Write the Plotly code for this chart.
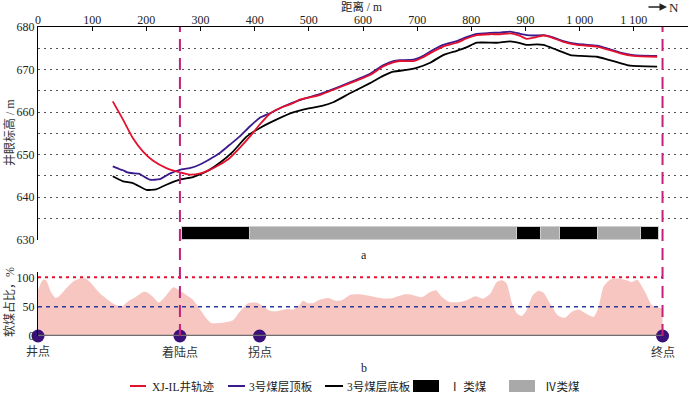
import plotly.graph_objects as go

# ---------------- data ----------------
track_x = [138,157,175,194,212,237,262,280,298,317,335,354,372,391,409,428,446,471,483,520,
           576,613,637,656,668,693,711,729,748,773,791,810,834,853,872,890,902,915,933,945,
           970,995,1032,1044,1075,1099,1143]
track_y = [662.5,658.2,653.9,650.7,648.6,646.8,645.8,645.3,645.5,646.4,647.6,649.2,651.5,654.2,657.0,
           659.6,660.9,662.1,662.9,664.0,666.8,668.7,670.7,671.7,672.0,672.0,672.9,674.2,675.4,676.3,
           677.3,678.1,678.3,678.3,678.5,677.9,677.2,677.5,678.0,677.7,676.5,675.8,675.4,675.0,673.8,
           673.2,673.0]

roof_x = [138,150,157,165,175,186,206,225,243,262,280,298,317,335,354,372,391,409,428,453,
          483,520,576,613,637,656,668,693,711,729,748,773,791,810,834,853,872,890,902,915,
          933,945,970,995,1032,1044,1075,1099,1143]
roof_y = [647.2,646.6,646.3,645.8,645.6,645.5,644.1,644.2,645.5,646.4,646.8,647.6,648.9,650.3,652.3,
          654.2,656.6,658.6,659.7,661.3,662.8,664.2,667.0,669.0,671.0,672.0,672.2,672.3,673.2,674.6,
          675.8,676.7,677.6,678.4,678.6,678.7,678.9,678.4,678.1,678.0,678.1,677.8,676.7,676.0,675.6,
          675.2,674.0,673.4,673.2]

floor_x = [138,157,175,200,218,237,262,286,311,335,360,385,409,440,471,502,526,545,576,613,
           637,656,680,699,724,748,773,791,810,847,872,890,902,921,933,958,983,1001,1032,1050,
           1075,1093,1143]
floor_y = [644.9,643.7,643.3,641.7,641.8,642.9,644.1,644.7,646.0,648.0,650.7,654.2,656.2,658.2,659.9,
           660.9,661.5,662.3,664.4,666.8,668.5,669.5,669.9,670.4,671.6,673.4,674.4,675.2,676.3,676.3,
           676.6,676.2,675.8,675.9,675.8,674.6,673.4,673.2,673.0,672.4,671.5,670.9,670.7]

soft_x = [0,9,15,24,32,38,49,64,77,88,98,114,129,141,154,166,181,194,200,212,
          223,234,250,262,274,286,298,311,320,335,360,372,388,403,415,428,440,459,471,483,
          489,498,507,520,536,551,563,576,594,637,656,677,686,708,724,735,745,760,779,791,
          807,822,835,847,856,865,875,884,893,902,913,924,933,945,961,973,985,998,1010,1026,
          1035,1044,1056,1069,1087,1096,1106,1121,1133,1153]
soft_y = [78,96,95,75,65,67,78,92,98,98,90,73,62,54,50,59,67,75,75,67,
          57,66,83,77,70,62,47,30,22,22,27,41,56,57,51,43,42,46,45,53,
          60,56,56,62,65,60,62,70,71,64,65,71,71,66,75,78,67,58,58,61,
          68,64,72,92,95,90,56,39,34,44,69,77,74,56,34,31,41,45,39,33,
          50,84,96,98,95,92,96,75,53,47]

coal_start = [265, 392, 884, 928, 964, 1033, 1113]
coal_end   = [392, 884, 928, 964, 1033, 1113, 1147]
coal_type  = ['I', 'IV', 'I', 'IV', 'I', 'IV', 'I']

point_names = ['井点', '着陆点', '拐点', '终点']
point_x     = [0, 262, 409, 1153]

x_ticks = list(range(0, 1201, 100))
y_ticks = list(range(630, 681, 5))
y2_ticks = [0, 50, 100]
soft_limit_hi = 100
soft_limit_mid = 50

# ---------------- styling ----------------
FONT = "Liberation Serif, Times New Roman, Noto Sans CJK SC, serif"
RED = "#e3102e"
BLUE = "#3a1a8c"
MAGENTA = "#c2207a"
PT_COLOR = "#3a1079"
W, H = 700, 395
# plot area in window pixels: x 38..688, y 27..336
L, T = 38, 27
R = W - 688
B = H - 336
PW, PH = W - L - R, H - T - B

def px_x(p):
    return (p - L) / PW

def px_y(p):
    return (H - B - p) / PH

def note(xw, yw, text, size=12, color='#222', xanchor='center', **kw):
    return dict(x=px_x(xw), y=px_y(yw), xref='paper', yref='paper', text=text, showarrow=False,
                xanchor=xanchor, yanchor='middle', font=dict(family=FONT, size=size, color=color), **kw)

fig = go.Figure()

# soft coal fill (bottom panel)
fig.add_trace(go.Scatter(x=soft_x, y=soft_y, xaxis='x2', yaxis='y2', mode='lines',
                         line=dict(color='rgba(0,0,0,0)', width=0, shape='spline', smoothing=0.6),
                         fill='tozeroy', fillcolor='#f8c6c1', showlegend=False, hoverinfo='skip'))

# coal bars
for kind, col in [('I', '#000000'), ('IV', '#a9a9a9')]:
    cx, cw = [], []
    for s, e, t in zip(coal_start, coal_end, coal_type):
        if t == kind:
            cx.append((s + e) / 2)
            cw.append(e - s)
    fig.add_trace(go.Bar(x=cx, y=[3] * len(cx), width=cw, base=630, xaxis='x', yaxis='y',
                         marker=dict(color=col, line=dict(color='#cfcfcf', width=1)),
                         showlegend=False, hoverinfo='skip'))

# lines
fig.add_trace(go.Scatter(x=floor_x, y=floor_y, mode='lines', xaxis='x', yaxis='y',
                         line=dict(color='#000000', width=1.8, shape='spline', smoothing=0.5),
                         showlegend=False))
fig.add_trace(go.Scatter(x=roof_x, y=roof_y, mode='lines', xaxis='x', yaxis='y',
                         line=dict(color=BLUE, width=1.8, shape='spline', smoothing=0.5),
                         showlegend=False))
fig.add_trace(go.Scatter(x=track_x, y=track_y, mode='lines', xaxis='x', yaxis='y',
                         line=dict(color=RED, width=1.8, shape='spline', smoothing=0.5),
                         showlegend=False))

shapes = []
# threshold lines bottom panel
shapes.append(dict(type='line', xref='x2', yref='y2', x0=0, x1=point_x[-1], y0=soft_limit_hi, y1=soft_limit_hi,
                   line=dict(color=RED, width=2, dash='3px,4px')))
shapes.append(dict(type='line', xref='x2', yref='y2', x0=0, x1=point_x[-1], y0=soft_limit_mid, y1=soft_limit_mid,
                   line=dict(color='#2a3a9c', width=1.5, dash='4px,4px')))
# bottom axis line
shapes.append(dict(type='line', xref='x2', yref='y2', x0=0, x1=point_x[-1], y0=0, y1=0,
                   line=dict(color='#6e6e6e', width=2.5)))
# vertical dashed lines
for xv in (point_x[1], point_x[3]):
    shapes.append(dict(type='line', xref='x', yref='paper', x0=xv, x1=xv, y0=0, y1=1,
                       line=dict(color=MAGENTA, width=2, dash='12px,7px')))

# landmark points
fig.add_trace(go.Scatter(x=point_x, y=[0] * len(point_x), xaxis='x2', yaxis='y2', mode='markers',
                         marker=dict(color=PT_COLOR, size=13), showlegend=False, cliponaxis=False))

annotations = []
for name, xv in zip(point_names, point_x):
    annotations.append(dict(x=xv, xref='x2', y=px_y(352), yref='paper', text=name, showarrow=False,
                            xanchor='center', yanchor='middle',
                            font=dict(family=FONT, size=12, color='#333')))

annotations += [
    note(361, 6.5, '距离 / m', size=11.5),
    note(674, 7, 'N', size=13),
    dict(x=px_x(667), y=px_y(7), xref='paper', yref='paper', ax=-20, ay=0, axref='pixel', ayref='pixel',
         text='', showarrow=True, arrowhead=2, arrowsize=1, arrowwidth=1.5, arrowcolor='#222'),
    note(364, 255, 'a'),
    note(364, 368, 'b'),
    note(9, 133, '井眼标高 / m', color='#333', textangle=-90),
    note(9, 302, '软煤占比，%', color='#333', textangle=-90),
]

# manual legend
LY = 386
leg_lines = [(130, 146, RED, 'XJ-IL井轨迹', 150), (228, 245, BLUE, '3号煤层顶板', 247),
             (325, 343, '#000', '3号煤层底板', 345)]
for x0, x1, col, txt, tx in leg_lines:
    shapes.append(dict(type='line', xref='paper', yref='paper', x0=px_x(x0), x1=px_x(x1),
                       y0=px_y(LY), y1=px_y(LY), line=dict(color=col, width=2)))
    annotations.append(note(tx, LY, txt, size=11.5, xanchor='left'))
for x0, x1, col, txt, tx in [(413, 439, '#000000', 'Ⅰ 类煤', 447), (509, 535, '#a9a9a9', 'Ⅳ类煤', 543)]:
    shapes.append(dict(type='rect', xref='paper', yref='paper', x0=px_x(x0), x1=px_x(x1),
                       y0=px_y(380), y1=px_y(392), fillcolor=col, line=dict(width=0)))
    annotations.append(note(tx, LY, txt, size=11.5, xanchor='left'))

top_dom0 = px_y(240)
bot_dom1 = px_y(271.5)

fig.update_layout(
    template='none',
    width=W, height=H, margin=dict(l=L, r=R, t=T, b=B, autoexpand=False),
    paper_bgcolor='white', plot_bgcolor='white', barmode='overlay', bargap=0,
    font=dict(family=FONT, size=12, color='#222'),
    xaxis=dict(domain=[0, 1], range=[0, 1200], side='top', anchor='y', showline=True, linecolor='#000',
               linewidth=1.2, tickvals=x_ticks, ticktext=[f"{v:,}".replace(',', ' ') for v in x_ticks],
               ticks='inside', ticklen=4, tickcolor='#000', showgrid=False, zeroline=False,
               ticklabelstandoff=-3,
               automargin=False, tickfont=dict(family=FONT, size=12, color='#222')),
    yaxis=dict(domain=[top_dom0, 1], range=[629.9, 680], anchor='x', showline=True, linecolor='#000',
               linewidth=1.2, tickvals=y_ticks,
               ticktext=[str(v) if v % 10 == 0 else '' for v in y_ticks],
               ticks='', showgrid=True, gridcolor='#555', gridwidth=1.3, griddash='2px,4px',
               zeroline=False, automargin=False, tickfont=dict(family=FONT, size=12, color='#222')),
    xaxis2=dict(domain=[0, 1], range=[0, 1200], anchor='y2', matches='x', visible=False, automargin=False),
    yaxis2=dict(domain=[0, bot_dom1], range=[0, 110], anchor='x2', showline=True, linecolor='#000',
                linewidth=1.2, tickvals=y2_ticks, ticks='', showgrid=False, zeroline=False,
                automargin=False, tickfont=dict(family=FONT, size=12, color='#222')),
    shapes=shapes, annotations=annotations, showlegend=False,
)

fig.write_html("out.html", config={'displayModeBar': False},
               post_script="document.body.style.margin='0';document.body.style.overflow='hidden';")
